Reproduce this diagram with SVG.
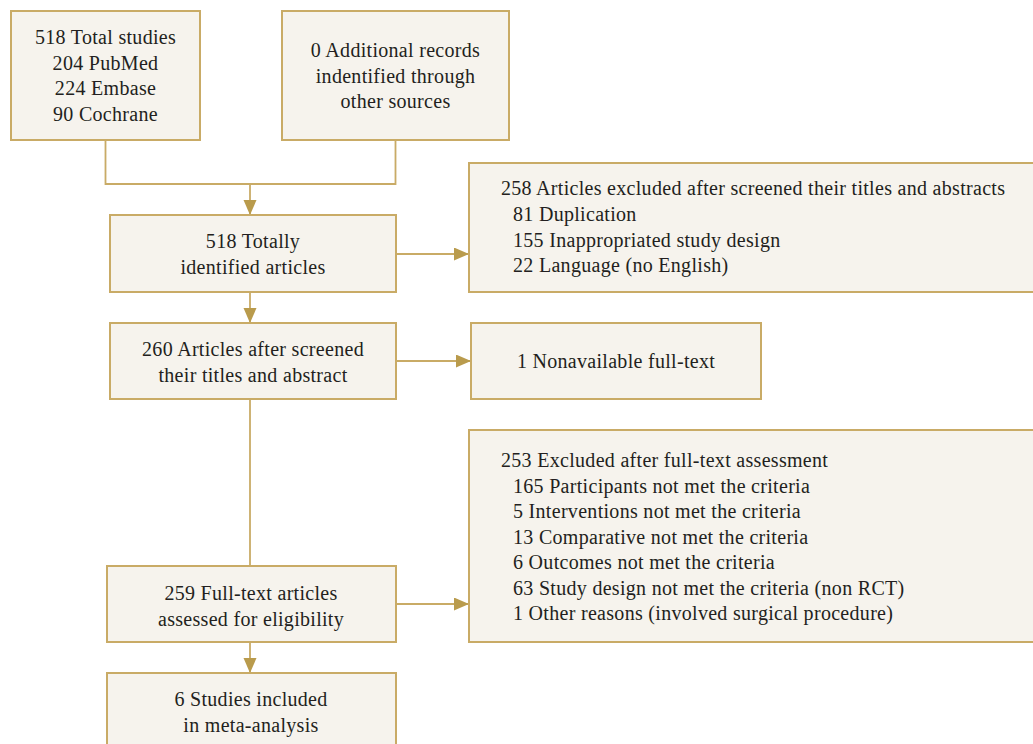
<svg xmlns="http://www.w3.org/2000/svg" width="1033" height="744" viewBox="0 0 1033 744">
<style>
.box{fill:#f6f3ed;stroke:#c9ab66;stroke-width:2}
.t{font-family:"Liberation Serif","Times New Roman",serif;font-size:20px;letter-spacing:0.3px;fill:#231f20}
.c{text-anchor:middle}
.ln{fill:none;stroke:#c9ab66;stroke-width:1.8}
</style>
<defs>
<marker id="ah" markerUnits="userSpaceOnUse" markerWidth="16" markerHeight="14" refX="15" refY="6.5" orient="auto">
<path d="M0,0 L15,6.5 L0,13 Z" fill="#b99b4c"/>
</marker>
</defs>
<rect width="1033" height="744" fill="#ffffff"/>
<g id="connectors">
<path class="ln" d="M105.5,140 V184 H395.5 V140"/>
<path class="ln" d="M250,184 V215" marker-end="url(#ah)"/>
<path class="ln" d="M250,292 V323" marker-end="url(#ah)"/>
<path class="ln" d="M396,254 H469" marker-end="url(#ah)"/>
<path class="ln" d="M396,361 H471" marker-end="url(#ah)"/>
<path class="ln" d="M250,399 V566"/>
<path class="ln" d="M396,604 H469" marker-end="url(#ah)"/>
<path class="ln" d="M250,642 V673" marker-end="url(#ah)"/>
</g>
<g id="n1">
<rect class="box" x="11" y="11" width="189" height="129"/>
<text class="t c" x="105.5" y="44">518 Total studies</text>
<text class="t c" x="105.5" y="69.5">204 PubMed</text>
<text class="t c" x="105.5" y="95">224 Embase</text>
<text class="t c" x="105.5" y="120.5">90 Cochrane</text>
</g>
<g id="n2">
<rect class="box" x="282" y="11" width="227" height="129"/>
<text class="t c" x="395.5" y="57">0 Additional records</text>
<text class="t c" x="395.5" y="83">indentified through</text>
<text class="t c" x="395.5" y="108">other sources</text>
</g>
<g id="n3">
<rect class="box" x="110" y="215" width="286" height="77"/>
<text class="t c" x="253" y="248">518 Totally</text>
<text class="t c" x="253" y="274">identified articles</text>
</g>
<g id="n4">
<rect class="box" x="469" y="163" width="570" height="129"/>
<text class="t" x="501" y="195">258 Articles excluded after screened their titles and abstracts</text>
<text class="t" x="513" y="221">81 Duplication</text>
<text class="t" x="513" y="246.5">155 Inappropriated study design</text>
<text class="t" x="513" y="272">22 Language (no English)</text>
</g>
<g id="n5">
<rect class="box" x="110" y="323" width="286" height="76"/>
<text class="t c" x="253" y="356">260 Articles after screened</text>
<text class="t c" x="253" y="382">their titles and abstract</text>
</g>
<g id="n6">
<rect class="box" x="471" y="323" width="290" height="76"/>
<text class="t c" x="616" y="368">1 Nonavailable full-text</text>
</g>
<g id="n7">
<rect class="box" x="469" y="430" width="570" height="212"/>
<text class="t" x="501" y="467">253 Excluded after full-text assessment</text>
<text class="t" x="513" y="492.5">165 Participants not met the criteria</text>
<text class="t" x="513" y="518">5 Interventions not met the criteria</text>
<text class="t" x="513" y="543.5">13 Comparative not met the criteria</text>
<text class="t" x="513" y="569">6 Outcomes not met the criteria</text>
<text class="t" x="513" y="594.5">63 Study design not met the criteria (non RCT)</text>
<text class="t" x="513" y="620">1 Other reasons (involved surgical procedure)</text>
</g>
<g id="n8">
<rect class="box" x="107" y="566" width="289" height="76"/>
<text class="t c" x="251" y="600">259 Full-text articles</text>
<text class="t c" x="251" y="625.5">assessed for eligibility</text>
</g>
<g id="n9">
<rect class="box" x="107" y="673" width="289" height="80"/>
<text class="t c" x="251" y="706">6 Studies included</text>
<text class="t c" x="251" y="732">in meta-analysis</text>
</g>
</svg>
